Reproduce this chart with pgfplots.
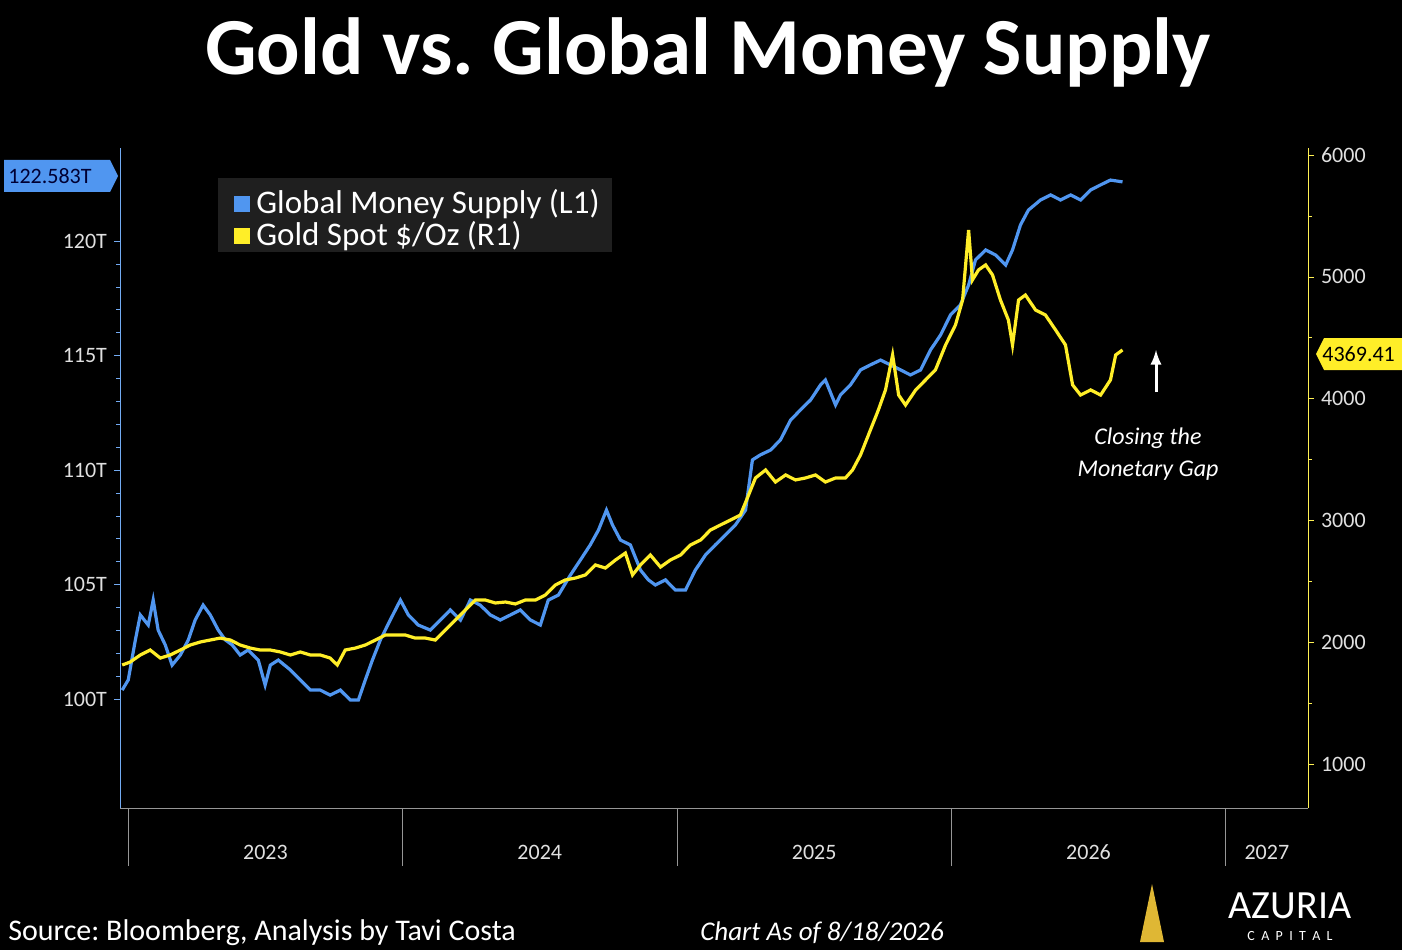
\documentclass[border=0pt]{standalone}
\usepackage{pgfplots}
\pgfplotsset{compat=1.18}
\usepackage{fontspec}
\setmainfont{Carlito}
\frenchspacing
\definecolor{mblue}{RGB}{80,150,240}
\definecolor{gyel}{RGB}{255,238,40}
\definecolor{axgrey}{RGB}{150,150,150}
\begin{document}
\begin{tikzpicture}
\useasboundingbox (0,0) rectangle (701pt,475pt);
\fill[black] (0,0) rectangle (701pt,475pt);
\node[white,font=\fontsize{40.5}{44}\selectfont\bfseries] at (354pt,449pt) {Gold vs. Global Money Supply};
\begin{axis}[at={(60pt,71pt)},anchor=south west,scale only axis,width=594pt,height=330pt,
  xmin=2022.97,xmax=2027.3,ymin=95.24,ymax=124.06,
  axis y line*=left, axis x line*=bottom,
  x axis line style={axgrey,-}, y axis line style={mblue!80,-},
  xtick={2023.5,2024.5,2025.5,2026.5,2027.15},
  xticklabels={2023,2024,2025,2026,2027},
  x tick style={draw=none}, xticklabel style={yshift=-12pt},
  ytick={100,105,110,115,120}, yticklabel={\pgfmathprintnumber{\tick}T},
  minor y tick num=4, y tick style={mblue!80}, tick align=outside,
  major tick length=3pt, minor tick length=2pt,
  ticklabel style={white!88!black,font=\fontsize{11}{13}\selectfont},
  /pgf/number format/assume math mode=true,
  clip=false]
\pgfplotsinvokeforeach{2023,2024,2025,2026,2027}{
  \draw[axgrey,thin] (axis cs:#1,95.24) -- (axis cs:#1,92.71);}
\addplot[mblue,line width=1.6pt] coordinates {
(2022.978,100.39)(2023.000,100.83)(2023.026,102.58)(2023.044,103.67)(2023.073,103.23)(2023.091,104.32)(2023.109,103.01)(2023.135,102.36)(2023.160,101.48)(2023.190,101.92)(2023.219,102.58)(2023.244,103.45)(2023.273,104.10)(2023.299,103.67)(2023.328,103.01)(2023.354,102.58)(2023.379,102.36)(2023.408,101.92)(2023.437,102.14)(2023.474,101.70)(2023.499,100.61)(2023.518,101.48)(2023.547,101.70)(2023.591,101.27)(2023.627,100.83)(2023.664,100.39)(2023.700,100.39)(2023.736,100.17)(2023.773,100.39)(2023.809,99.96)(2023.839,99.96)(2023.864,100.83)(2023.890,101.70)(2023.919,102.58)(2023.955,103.45)(2023.992,104.32)(2024.021,103.67)(2024.057,103.23)(2024.101,103.01)(2024.138,103.45)(2024.174,103.89)(2024.211,103.45)(2024.247,104.32)(2024.283,104.10)(2024.320,103.67)(2024.356,103.45)(2024.393,103.67)(2024.429,103.89)(2024.466,103.45)(2024.502,103.23)(2024.531,104.32)(2024.568,104.54)(2024.612,105.42)(2024.648,106.07)(2024.684,106.73)(2024.714,107.38)(2024.743,108.25)(2024.765,107.60)(2024.794,106.94)(2024.830,106.73)(2024.867,105.63)(2024.896,105.20)(2024.921,104.98)(2024.958,105.20)(2024.994,104.76)(2025.031,104.76)(2025.067,105.63)(2025.104,106.29)(2025.140,106.73)(2025.176,107.16)(2025.213,107.60)(2025.250,108.25)(2025.275,110.44)(2025.304,110.66)(2025.341,110.87)(2025.377,111.31)(2025.414,112.18)(2025.450,112.62)(2025.487,113.06)(2025.523,113.71)(2025.541,113.93)(2025.578,112.84)(2025.596,113.28)(2025.632,113.71)(2025.669,114.37)(2025.705,114.59)(2025.742,114.80)(2025.778,114.59)(2025.815,114.37)(2025.851,114.15)(2025.888,114.37)(2025.924,115.24)(2025.961,115.90)(2025.997,116.77)(2026.033,117.21)(2026.063,118.08)(2026.088,119.17)(2026.125,119.61)(2026.161,119.39)(2026.198,118.95)(2026.223,119.61)(2026.252,120.70)(2026.281,121.35)(2026.325,121.79)(2026.362,122.01)(2026.398,121.79)(2026.435,122.01)(2026.471,121.79)(2026.508,122.23)(2026.544,122.45)(2026.580,122.66)(2026.624,122.58)};
\end{axis}
\begin{axis}[at={(60pt,71pt)},anchor=south west,scale only axis,width=594pt,height=330pt,
  xmin=2022.97,xmax=2027.3,ymin=639,ymax=6057,
  axis y line*=right, axis x line=none,
  y axis line style={gyel!80,-}, y tick style={gyel!80},
  ytick={1000,2000,3000,4000,5000,6000}, minor y tick num=1,
  tick align=outside, major tick length=3pt, minor tick length=2pt,
  ticklabel style={white!88!black,font=\fontsize{11}{13}\selectfont},
  /pgf/number format/assume math mode=true,
  /pgf/number format/1000 sep={},
  clip=false]
\addplot[gyel,line width=1.6pt] coordinates {
(2022.978,1813)(2023.007,1837)(2023.044,1895)(2023.080,1936)(2023.117,1870)(2023.153,1895)(2023.190,1936)(2023.226,1977)(2023.263,2002)(2023.299,2018)(2023.335,2034)(2023.372,2018)(2023.408,1977)(2023.445,1952)(2023.481,1936)(2023.518,1936)(2023.554,1920)(2023.591,1895)(2023.627,1920)(2023.664,1895)(2023.700,1895)(2023.736,1870)(2023.762,1813)(2023.791,1936)(2023.828,1952)(2023.864,1977)(2023.901,2018)(2023.937,2059)(2023.973,2059)(2024.010,2059)(2024.046,2034)(2024.083,2034)(2024.119,2018)(2024.156,2100)(2024.192,2182)(2024.229,2264)(2024.265,2346)(2024.302,2346)(2024.338,2322)(2024.375,2330)(2024.411,2314)(2024.447,2346)(2024.484,2346)(2024.520,2387)(2024.557,2470)(2024.593,2511)(2024.630,2527)(2024.666,2552)(2024.703,2634)(2024.739,2609)(2024.776,2675)(2024.812,2732)(2024.838,2552)(2024.867,2634)(2024.903,2716)(2024.940,2617)(2024.976,2675)(2025.013,2716)(2025.049,2798)(2025.086,2839)(2025.122,2921)(2025.158,2962)(2025.195,3003)(2025.231,3044)(2025.261,3208)(2025.286,3348)(2025.323,3414)(2025.359,3315)(2025.396,3373)(2025.432,3332)(2025.468,3348)(2025.505,3373)(2025.541,3315)(2025.578,3348)(2025.614,3348)(2025.640,3414)(2025.669,3537)(2025.705,3742)(2025.734,3906)(2025.760,4071)(2025.786,4358)(2025.808,4029)(2025.833,3947)(2025.870,4071)(2025.906,4153)(2025.942,4235)(2025.979,4440)(2026.015,4604)(2026.041,4809)(2026.063,5384)(2026.077,4974)(2026.099,5056)(2026.125,5097)(2026.150,5015)(2026.179,4809)(2026.208,4645)(2026.223,4440)(2026.245,4809)(2026.270,4850)(2026.307,4727)(2026.343,4686)(2026.380,4563)(2026.416,4440)(2026.442,4112)(2026.471,4029)(2026.508,4071)(2026.544,4029)(2026.580,4153)(2026.599,4358)(2026.624,4399)};
\end{axis}
% legend
\fill[black!88!white] (109pt,349pt) rectangle (306pt,386pt);
\fill[mblue] (117pt,369pt) rectangle (125pt,377pt);
\fill[gyel] (117pt,353pt) rectangle (125pt,361pt);
\node[anchor=west,white,font=\fontsize{16.5}{18}\selectfont,inner sep=0pt] at (128pt,373pt) {Global Money Supply (L1)};
\node[anchor=west,white,font=\fontsize{16.5}{18}\selectfont,inner sep=0pt] at (128pt,357pt) {Gold Spot \$/Oz (R1)};
% value tags
\fill[mblue] (2pt,379pt) -- (55pt,379pt) -- (59pt,387pt) -- (55pt,395pt) -- (2pt,395pt) -- cycle;
\node[anchor=west,black!80!blue,font=\fontsize{11}{13}\selectfont,inner sep=0pt] at (4pt,387pt) {122.583T};
\fill[gyel] (662pt,290pt) -- (658pt,298pt) -- (662pt,306pt) -- (710pt,306pt) -- (710pt,290pt) -- cycle;
\node[anchor=west,black,font=\fontsize{11}{13}\selectfont,inner sep=0pt] at (661pt,298pt) {4369.41};
% annotation
\draw[white,line width=1.5pt,-latex] (578pt,279pt) -- (578pt,300pt);
\node[white,font=\fontsize{12}{16}\selectfont\itshape,align=center] at (574pt,248pt) {Closing the\\Monetary Gap};
% footer
\node[anchor=west,white,font=\fontsize{15}{17}\selectfont,inner sep=0pt] at (4pt,8.5pt) {Source: Bloomberg, Analysis by Tavi Costa};
\node[white,font=\fontsize{13.5}{15}\selectfont\itshape,inner sep=0pt] at (411pt,8.5pt) {Chart As of 8/18/2026};
\fill[gyel!50!brown] (570pt,4pt) -- (576pt,33pt) -- (582pt,4pt) -- cycle;
\node[white,font=\fontsize{20}{22}\selectfont,inner sep=0pt] at (645pt,22pt) {AZURIA};
\node[white,font=\fontsize{7}{8}\selectfont,inner sep=0pt] at (645pt,7pt) {C\ \ A\ \ P\ \ I\ \ T\ \ A\ \ L};
\end{tikzpicture}
\end{document}
